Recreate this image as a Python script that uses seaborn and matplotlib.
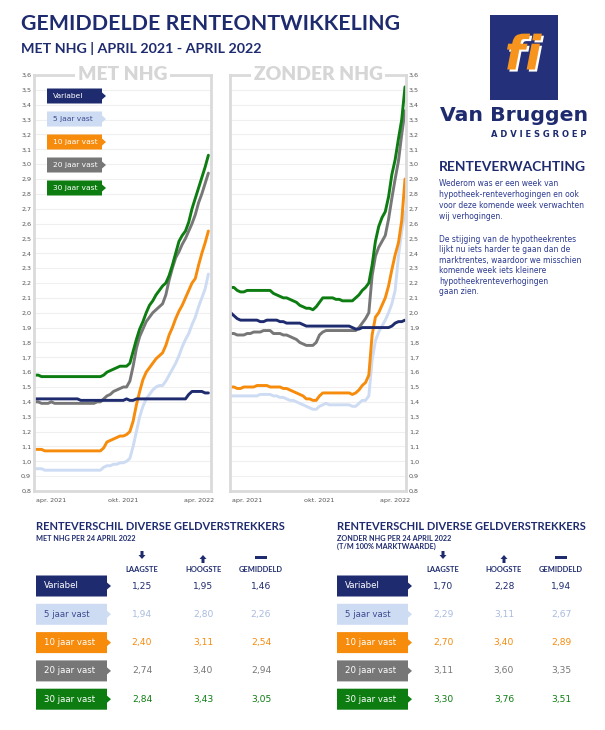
import numpy as np
import pandas as pd
import matplotlib.pyplot as plt
import matplotlib.patheffects as pe
from matplotlib.patches import Polygon, Rectangle, FancyArrow
import seaborn as sns

sns.set_style("white")
plt.rcParams["font.family"] = ["DejaVu Sans"]

# series names and colours
series = ["Variabel", "5 jaar vast", "10 jaar vast", "20 jaar vast", "30 jaar vast"]
colors = ["#1f2b6f", "#cddbf3", "#f68b0c", "#777777", "#0d7d12"]
tag_text = ["white", "#3c4b8f", "white", "white", "white"]
value_colors = ["#1f2b6f", "#a9bbdf", "#f68b0c", "#777777", "#0d7d12"]

# weekly averages, MET NHG (apr 2021 - apr 2022)
met_variabel = [1.42, 1.42, 1.42, 1.42, 1.42, 1.42, 1.42, 1.42, 1.42, 1.42,
                1.42, 1.42, 1.42, 1.42, 1.41, 1.41, 1.41, 1.41, 1.41, 1.41,
                1.41, 1.41, 1.41, 1.41, 1.41, 1.41, 1.41, 1.41, 1.42, 1.41,
                1.41, 1.42, 1.42, 1.42, 1.42, 1.42, 1.42, 1.42, 1.42, 1.42,
                1.42, 1.42, 1.42, 1.42, 1.42, 1.42, 1.42, 1.45, 1.47, 1.47,
                1.47, 1.47, 1.46, 1.46]
met_5 = [0.95, 0.95, 0.95, 0.94, 0.94, 0.94, 0.94, 0.94, 0.94, 0.94,
         0.94, 0.94, 0.94, 0.94, 0.94, 0.94, 0.94, 0.94, 0.94, 0.94,
         0.94, 0.96, 0.97, 0.97, 0.98, 0.98, 0.99, 0.99, 1.00, 1.02,
         1.10, 1.20, 1.30, 1.37, 1.42, 1.45, 1.48, 1.50, 1.51, 1.51,
         1.54, 1.58, 1.62, 1.66, 1.71, 1.77, 1.82, 1.86, 1.92, 1.97,
         2.04, 2.10, 2.16, 2.26]
met_10 = [1.08, 1.08, 1.08, 1.07, 1.07, 1.07, 1.07, 1.07, 1.07, 1.07,
          1.07, 1.07, 1.07, 1.07, 1.07, 1.07, 1.07, 1.07, 1.07, 1.07,
          1.07, 1.09, 1.13, 1.14, 1.15, 1.16, 1.17, 1.17, 1.18, 1.20,
          1.27, 1.38, 1.47, 1.55, 1.60, 1.63, 1.66, 1.69, 1.71, 1.73,
          1.78, 1.85, 1.90, 1.96, 2.01, 2.05, 2.10, 2.15, 2.20, 2.23,
          2.32, 2.40, 2.47, 2.55]
met_20 = [1.40, 1.40, 1.39, 1.39, 1.39, 1.40, 1.39, 1.39, 1.39, 1.39,
          1.39, 1.39, 1.39, 1.39, 1.39, 1.39, 1.39, 1.39, 1.39, 1.40,
          1.40, 1.42, 1.44, 1.45, 1.47, 1.48, 1.49, 1.50, 1.50, 1.54,
          1.64, 1.76, 1.84, 1.89, 1.94, 1.97, 2.00, 2.02, 2.04, 2.06,
          2.12, 2.22, 2.30, 2.37, 2.41, 2.46, 2.50, 2.55, 2.60, 2.66,
          2.74, 2.80, 2.87, 2.94]
met_30 = [1.58, 1.58, 1.57, 1.57, 1.57, 1.57, 1.57, 1.57, 1.57, 1.57,
          1.57, 1.57, 1.57, 1.57, 1.57, 1.57, 1.57, 1.57, 1.57, 1.57,
          1.57, 1.58, 1.60, 1.61, 1.62, 1.63, 1.64, 1.64, 1.64, 1.66,
          1.74, 1.82, 1.89, 1.94, 2.00, 2.05, 2.08, 2.12, 2.15, 2.18,
          2.20, 2.25, 2.32, 2.40, 2.48, 2.52, 2.55, 2.61, 2.70, 2.77,
          2.84, 2.91, 2.98, 3.06]

# weekly averages, ZONDER NHG
zon_variabel = [2.00, 1.98, 1.96, 1.95, 1.95, 1.95, 1.95, 1.95, 1.95, 1.94,
                1.94, 1.95, 1.95, 1.95, 1.95, 1.94, 1.94, 1.93, 1.93, 1.93,
                1.93, 1.93, 1.92, 1.91, 1.91, 1.91, 1.91, 1.91, 1.91, 1.91,
                1.91, 1.91, 1.91, 1.91, 1.91, 1.91, 1.91, 1.90, 1.89, 1.89,
                1.90, 1.90, 1.90, 1.90, 1.90, 1.90, 1.90, 1.90, 1.90, 1.91,
                1.93, 1.94, 1.94, 1.95]
zon_5 = [1.44, 1.44, 1.44, 1.44, 1.44, 1.44, 1.44, 1.44, 1.44, 1.45,
         1.45, 1.45, 1.45, 1.44, 1.44, 1.43, 1.43, 1.42, 1.41, 1.41,
         1.40, 1.39, 1.38, 1.37, 1.36, 1.35, 1.35, 1.37, 1.38, 1.39,
         1.38, 1.38, 1.38, 1.38, 1.38, 1.38, 1.38, 1.37, 1.37, 1.39,
         1.41, 1.41, 1.44, 1.68, 1.81, 1.87, 1.91, 1.95, 2.00, 2.06,
         2.15, 2.38, 2.55, 2.68]
zon_10 = [1.50, 1.50, 1.49, 1.49, 1.50, 1.50, 1.50, 1.50, 1.51, 1.51,
          1.51, 1.51, 1.50, 1.50, 1.50, 1.50, 1.49, 1.49, 1.48, 1.47,
          1.46, 1.45, 1.44, 1.42, 1.42, 1.41, 1.41, 1.44, 1.46, 1.46,
          1.46, 1.46, 1.46, 1.46, 1.46, 1.46, 1.46, 1.45, 1.46, 1.48,
          1.51, 1.53, 1.58, 1.85, 1.97, 2.00, 2.05, 2.10, 2.18, 2.29,
          2.39, 2.47, 2.62, 2.90]
zon_20 = [1.86, 1.86, 1.85, 1.85, 1.85, 1.86, 1.86, 1.87, 1.87, 1.87,
          1.88, 1.88, 1.88, 1.86, 1.86, 1.86, 1.85, 1.85, 1.84, 1.83,
          1.82, 1.80, 1.79, 1.78, 1.78, 1.78, 1.80, 1.85, 1.87, 1.88,
          1.88, 1.88, 1.88, 1.88, 1.88, 1.88, 1.88, 1.88, 1.88, 1.90,
          1.93, 1.96, 2.00, 2.25, 2.38, 2.44, 2.48, 2.52, 2.63, 2.77,
          2.90, 3.02, 3.20, 3.36]
zon_30 = [2.17, 2.17, 2.15, 2.14, 2.14, 2.15, 2.15, 2.15, 2.15, 2.15,
          2.15, 2.15, 2.15, 2.13, 2.12, 2.11, 2.10, 2.10, 2.09, 2.08,
          2.07, 2.05, 2.04, 2.03, 2.03, 2.02, 2.04, 2.07, 2.10, 2.10,
          2.10, 2.10, 2.09, 2.09, 2.08, 2.08, 2.08, 2.08, 2.10, 2.12,
          2.15, 2.17, 2.20, 2.32, 2.48, 2.58, 2.64, 2.68, 2.78, 2.93,
          3.03, 3.17, 3.30, 3.52]

x_labels = ["apr. 2021", "okt. 2021", "apr. 2022"]

# table: renteverschil per 24 april 2022
met_laagste = [1.25, 1.94, 2.40, 2.74, 2.84]
met_hoogste = [1.95, 2.80, 3.11, 3.40, 3.43]
met_gemiddeld = [1.46, 2.26, 2.54, 2.94, 3.05]
zon_laagste = [1.70, 2.29, 2.70, 3.11, 3.30]
zon_hoogste = [2.28, 3.11, 3.40, 3.60, 3.76]
zon_gemiddeld = [1.94, 2.67, 2.89, 3.35, 3.51]

NAVY = "#1f2b6f"
HEAD = "Lato"

weeks = np.arange(len(met_variabel))


def long_df(cols):
    parts = [pd.DataFrame({"week": weeks, "rente": v, "soort": s}) for s, v in zip(series, cols)]
    return pd.concat(parts, ignore_index=True)


df_met = long_df([met_variabel, met_5, met_10, met_20, met_30])
df_zon = long_df([zon_variabel, zon_5, zon_10, zon_20, zon_30])

fig = plt.figure(figsize=(6.05, 7.3), dpi=100)
renderer = fig.canvas.get_renderer()


def fit(t, width_px):
    w = t.get_window_extent(renderer).width
    t.set_fontsize(t.get_fontsize() * width_px / w)
    return t


def panel(rect, df, title, title_w, xlim, right=False):
    ax = fig.add_axes(rect)
    sns.lineplot(data=df, x="week", y="rente", hue="soort",
                 hue_order=series[1:] + series[:1],
                 palette=dict(zip(series, colors)), linewidth=2.1,
                 legend=False, ax=ax)
    ax.set_ylim(0.8, 3.6)
    ax.set_xlim(*xlim)
    ax.set_yticks(np.round(np.arange(0.8, 3.61, 0.1), 1))
    ax.yaxis.set_major_formatter(lambda v, p: f"{v:.1f}".replace(".", ","))
    ax.set_xticks([5, 27, 50])
    ax.set_xticklabels(x_labels)
    ax.set_xlabel("")
    ax.set_ylabel("")
    ax.grid(axis="y", color="#efefef", linewidth=0.8)
    ax.set_axisbelow(True)
    for sp in ax.spines.values():
        sp.set_color("#dadada")
        sp.set_linewidth(2)
    ax.tick_params(axis="both", length=0, labelsize=4.6, labelcolor="#555555")
    ax.tick_params(axis="y", pad=2)
    ax.tick_params(axis="x", pad=5)
    if right:
        ax.yaxis.tick_right()
    t = ax.text(0.5, 1.0, title, transform=ax.transAxes, ha="center", va="center",
                fontsize=15, fontweight="heavy", color="#d6d6d6", family=HEAD,
                bbox=dict(fc="white", ec="none", pad=2))
    fit(t, title_w)
    return ax


panel([34 / 605, 1 - 491 / 730, 177 / 605, 416 / 730], df_met, "MET NHG", 90, (-0.3, 53.8))
panel([230 / 605, 1 - 491 / 730, 176 / 605, 416 / 730], df_zon, "ZONDER NHG", 130, (-0.2, 53.3), right=True)

# overlay in pixel coordinates for the infographic parts
bg = fig.add_axes([0, 0, 1, 1], facecolor="none")
bg.set_xlim(0, 605)
bg.set_ylim(730, 0)
bg.axis("off")


def tag(x0, yc, w, h, fc):
    x1 = x0 + w
    pts = [(x0, yc - h / 2), (x1, yc - h / 2), (x1, yc - 3.5), (x1 + 4, yc),
           (x1, yc + 3.5), (x1, yc + h / 2), (x0, yc + h / 2)]
    bg.add_patch(Polygon(pts, closed=True, fc=fc, ec="none"))


# titles
fit(bg.text(21, 30, "GEMIDDELDE RENTEONTWIKKELING", fontsize=16, fontweight="bold",
            color=NAVY, family=HEAD, va="baseline"), 378)
fit(bg.text(21, 53, "MET NHG | APRIL 2021 - APRIL 2022", fontsize=10, fontweight="bold",
            color=NAVY, family=HEAD, va="baseline"), 242)

# chart legend tags
for i, (s, c, tc) in enumerate(zip(series, colors, tag_text)):
    yc = 96 + i * 23
    tag(47, yc, 55, 15, c)
    bg.text(53, yc, s, fontsize=5.4, color=tc, va="center")

# logo
bg.add_patch(Rectangle((490, 15), 68, 85, fc="#24307a", ec="none"))
bg.text(523, 57, "fi", fontsize=34, fontweight="bold", style="italic",
        color="#f7941d", ha="center", va="center",
        path_effects=[pe.withSimplePatchShadow(offset=(1.5, -1.5), shadow_rgbFace="white", alpha=1)])
fit(bg.text(440, 121, "Van Bruggen", fontsize=15, fontweight="bold", color=NAVY,
            va="baseline"), 148)
fit(bg.text(491, 137, "A D V I E S G R O E P", fontsize=6, fontweight="bold", color=NAVY,
            va="baseline"), 96)

# renteverwachting
fit(bg.text(439, 171, "RENTEVERWACHTING", fontsize=12, fontweight="bold", color=NAVY,
            family=HEAD, va="baseline"), 146)
para1 = ["Wederom was er een week van", "hypotheek-renteverhogingen en ook",
         "voor deze komende week verwachten", "wij verhogingen."]
para2 = ["De stijging van de hypotheekrentes", "lijkt nu iets harder te gaan dan de",
         "marktrentes, waardoor we misschien", "komende week iets kleinere",
         "hypotheekrenteverhogingen", "gaan zien."]
for j, line in enumerate(para1):
    bg.text(439, 184 + j * 10.8, line, fontsize=5.5, color="#2b3990", va="center")
for j, line in enumerate(para2):
    bg.text(439, 239 + j * 10.6, line, fontsize=5.5, color="#2b3990", va="center")


def table(x0, sub, cols, low, high, avg):
    fit(bg.text(x0, 530, "RENTEVERSCHIL DIVERSE GELDVERSTREKKERS", fontsize=8,
                fontweight="bold", color=NAVY, family=HEAD, va="baseline"), 249)
    for k, line in enumerate(sub):
        bg.text(x0, 541 + k * 8, line, fontsize=5.2, fontweight="bold", color=NAVY,
                family=HEAD, va="baseline")
    # header icons
    bg.add_patch(FancyArrow(cols[0], 551, 0, 8, width=3, head_width=7, head_length=4,
                            length_includes_head=True, fc=NAVY, ec="none"))
    bg.add_patch(FancyArrow(cols[1], 563, 0, -8, width=3, head_width=7, head_length=4,
                            length_includes_head=True, fc=NAVY, ec="none"))
    bg.add_patch(Rectangle((cols[2] - 6, 556), 12, 3, fc=NAVY, ec="none"))
    for cx, head in zip(cols, ["LAAGSTE", "HOOGSTE", "GEMIDDELD"]):
        bg.text(cx, 570, head, fontsize=5.4, fontweight="bold", color=NAVY,
                family=HEAD, ha="center", va="center")
    for i, s in enumerate(series):
        yc = 586 + i * 28.3
        tag(x0, yc, 71, 21, colors[i])
        bg.text(x0 + 8, yc, s, fontsize=6.2, color=tag_text[i], va="center")
        for cx, vals in zip(cols, [low, high, avg]):
            bg.text(cx, yc, f"{vals[i]:.2f}".replace(".", ","), fontsize=6.6,
                    color=value_colors[i], ha="center", va="center")


table(36, ["MET NHG PER 24 APRIL 2022"], [142, 203, 261],
      met_laagste, met_hoogste, met_gemiddeld)
table(337, ["ZONDER NHG PER 24 APRIL 2022", "(T/M 100% MARKTWAARDE)"], [443, 504, 561],
      zon_laagste, zon_hoogste, zon_gemiddeld)

fig.savefig("out.png", dpi=100)
